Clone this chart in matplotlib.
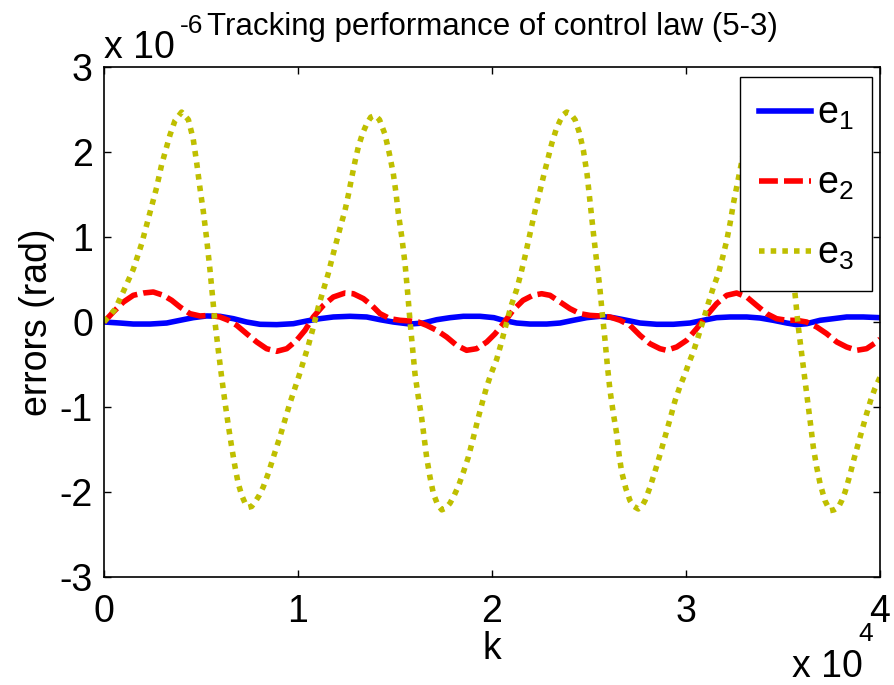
import numpy as np
import matplotlib
matplotlib.use("Agg")
import matplotlib.pyplot as plt
from matplotlib.ticker import FuncFormatter

plt.rcParams["font.family"] = ["Liberation Sans", "DejaVu Sans"]
plt.rcParams["mathtext.default"] = "regular"

# values: k in units of 1e4, errors in units of 1e-6 rad
k_e1 = [0.000, 0.082, 0.151, 0.237, 0.323, 0.392, 0.460, 0.529, 0.598, 0.667,
        0.735, 0.804, 0.890, 0.976, 1.045, 1.113, 1.182, 1.268, 1.354, 1.423,
        1.491, 1.577, 1.646, 1.715, 1.784, 1.852, 1.938, 2.010, 2.058, 2.127,
        2.196, 2.282, 2.351, 2.419, 2.488, 2.557, 2.625, 2.694, 2.763, 2.849,
        2.935, 3.021, 3.089, 3.158, 3.227, 3.313, 3.381, 3.450, 3.519, 3.570,
        3.622, 3.691, 3.759, 3.828, 3.914, 4.000]
e1 = [0.000, -0.012, -0.024, -0.024, -0.012, 0.020, 0.051, 0.071, 0.067, 0.039,
      0.000, -0.027, -0.031, -0.020, 0.012, 0.039, 0.059, 0.067, 0.059, 0.027,
      0.000, -0.024, -0.012, 0.027, 0.051, 0.067, 0.067, 0.051, 0.020, -0.012,
      -0.024, -0.024, -0.012, 0.020, 0.051, 0.067, 0.051, 0.020, -0.012, -0.027,
      -0.027, -0.012, 0.020, 0.051, 0.059, 0.059, 0.047, 0.020, -0.012, -0.031,
      -0.020, 0.020, 0.039, 0.059, 0.059, 0.051]

k_e2 = [0.000, 0.048, 0.100, 0.151, 0.203, 0.254, 0.306, 0.349, 0.392, 0.443,
        0.495, 0.546, 0.598, 0.641, 0.684, 0.735, 0.787, 0.838, 0.890, 0.942,
        0.993, 1.036, 1.079, 1.131, 1.182, 1.242, 1.285, 1.337, 1.380, 1.423,
        1.474, 1.526, 1.577, 1.620, 1.663, 1.715, 1.766, 1.818, 1.869, 1.921,
        1.973, 2.015, 2.058, 2.108, 2.160, 2.211, 2.256, 2.299, 2.351, 2.402,
        2.454, 2.505, 2.557, 2.608, 2.660, 2.711, 2.763, 2.814, 2.866, 2.900,
        2.952, 3.003, 3.055, 3.107, 3.158, 3.210, 3.261, 3.313, 3.364, 3.416,
        3.467, 3.519, 3.570, 3.622, 3.674, 3.725, 3.777, 3.828, 3.880, 3.931,
        3.983, 4.000]
e2 = [0.000, 0.118, 0.235, 0.314, 0.341, 0.353, 0.314, 0.255, 0.176, 0.098,
      0.071, 0.078, 0.059, 0.020, -0.039, -0.137, -0.235, -0.314, -0.345, -0.314,
      -0.216, -0.098, 0.059, 0.196, 0.294, 0.341, 0.333, 0.275, 0.196, 0.098,
      0.039, 0.020, 0.012, 0.000, -0.039, -0.098, -0.176, -0.275, -0.333, -0.314,
      -0.235, -0.140, -0.020, 0.137, 0.255, 0.314, 0.333, 0.314, 0.235, 0.157,
      0.098, 0.078, 0.071, 0.059, 0.020, -0.039, -0.157, -0.255, -0.314, -0.333,
      -0.294, -0.216, -0.078, 0.078, 0.216, 0.314, 0.341, 0.294, 0.196, 0.098,
      0.039, 0.020, 0.020, 0.000, -0.059, -0.137, -0.235, -0.294, -0.333, -0.314,
      -0.235, -0.200]

k_e3 = [0.000, 0.057, 0.100, 0.151, 0.194, 0.237, 0.271, 0.297, 0.340, 0.366,
        0.400, 0.435, 0.460, 0.478, 0.495, 0.512, 0.529, 0.546, 0.560, 0.572,
        0.589, 0.607, 0.624, 0.641, 0.658, 0.675, 0.692, 0.710, 0.727, 0.744,
        0.761, 0.778, 0.800, 0.821, 0.847, 0.873, 0.907, 0.933, 0.959, 0.985,
        1.007, 1.027, 1.053, 1.079, 1.105, 1.130, 1.156, 1.178, 1.200, 1.221,
        1.242, 1.260, 1.277, 1.294, 1.311, 1.333, 1.354, 1.375, 1.397, 1.420,
        1.448, 1.470, 1.491, 1.505, 1.517, 1.535, 1.552, 1.565, 1.577, 1.590,
        1.603, 1.620, 1.637, 1.650, 1.663, 1.680, 1.698, 1.720, 1.741, 1.762,
        1.784, 1.805, 1.827, 1.852, 1.878, 1.905, 1.930, 1.952, 1.973, 1.995,
        2.024, 2.045, 2.067, 2.097, 2.127, 2.150, 2.170, 2.196, 2.222, 2.245,
        2.265, 2.288, 2.308, 2.330, 2.351, 2.368, 2.385, 2.405, 2.428, 2.450,
        2.471, 2.490, 2.505, 2.522, 2.540, 2.555, 2.565, 2.582, 2.595, 2.608,
        2.625, 2.643, 2.655, 2.668, 2.690, 2.711, 2.732, 2.754, 2.772, 2.789,
        2.815, 2.840, 2.866, 2.892, 2.918, 2.943, 2.970, 2.995, 3.015, 3.038,
        3.062, 3.089, 3.115, 3.140, 3.167, 3.190, 3.210, 3.228, 3.244, 3.262,
        3.278, 3.304, 3.330, 3.355, 3.385, 3.410, 3.435, 3.460, 3.485, 3.505,
        3.525, 3.545, 3.562, 3.579, 3.592, 3.605, 3.618, 3.631, 3.644, 3.656,
        3.673, 3.691, 3.716, 3.742, 3.763, 3.785, 3.803, 3.820, 3.845, 3.866,
        3.888, 3.910, 3.931, 3.952, 3.974, 4.000]
e3 = [0.000, 0.150, 0.360, 0.620, 0.920, 1.290, 1.580, 1.850, 2.200, 2.370,
      2.470, 2.380, 2.150, 1.870, 1.570, 1.300, 0.980, 0.620, 0.280, 0.000,
      -0.330, -0.660, -0.950, -1.220, -1.470, -1.700, -1.900, -2.040, -2.130, -2.180,
      -2.170, -2.120, -2.040, -1.940, -1.780, -1.590, -1.350, -1.150, -0.950, -0.770,
      -0.620, -0.470, -0.280, -0.060, 0.180, 0.370, 0.570, 0.770, 0.960, 1.140,
      1.310, 1.500, 1.700, 1.890, 2.060, 2.220, 2.330, 2.410, 2.430, 2.380,
      2.210, 1.990, 1.750, 1.520, 1.280, 1.000, 0.680, 0.350, 0.020, -0.300,
      -0.610, -0.880, -1.120, -1.360, -1.590, -1.820, -2.020, -2.150, -2.210, -2.190,
      -2.130, -2.040, -1.930, -1.770, -1.590, -1.350, -1.120, -0.930, -0.760, -0.610,
      -0.440, -0.270, -0.080, 0.180, 0.380, 0.580, 0.770, 1.040, 1.310, 1.520,
      1.710, 1.920, 2.100, 2.260, 2.370, 2.440, 2.470, 2.450, 2.380, 2.230,
      2.020, 1.740, 1.420, 1.060, 0.700, 0.420, 0.180, -0.200, -0.520, -0.800,
      -1.070, -1.320, -1.560, -1.760, -1.960, -2.100, -2.170, -2.200, -2.170, -2.100,
      -1.940, -1.760, -1.560, -1.350, -1.140, -0.930, -0.750, -0.610, -0.480, -0.350,
      -0.180, 0.020, 0.220, 0.400, 0.570, 0.770, 0.960, 1.170, 1.390, 1.600,
      1.780, 2.080, 2.280, 2.390, 2.450, 2.420, 2.300, 2.100, 1.800, 1.450,
      1.080, 0.700, 0.330, -0.060, -0.300, -0.530, -0.770, -1.000, -1.240, -1.470,
      -1.700, -1.900, -2.100, -2.220, -2.210, -2.180, -2.100, -2.000, -1.800, -1.610,
      -1.430, -1.250, -1.080, -0.920, -0.780, -0.650]

K_SCALE = 1e4
E_SCALE = 1e-6

fig = plt.figure(figsize=(8.94, 6.85), dpi=100)
ax = fig.add_axes([104 / 894, 1 - 577 / 685, 776 / 894, 510 / 685])

ax.plot(np.array(k_e1) * K_SCALE, np.array(e1) * E_SCALE, color="#0000FF",
        lw=4, label="e$_1$")
ax.plot(np.array(k_e2) * K_SCALE, np.array(e2) * E_SCALE, color="#FF0000",
        lw=4, dashes=(3.4, 1.1), label="e$_2$")
ax.plot(np.array(k_e3) * K_SCALE, np.array(e3) * E_SCALE, color="#BFBF00",
        lw=4, dashes=(1.0, 1.1), label="e$_3$")

ax.set_xlim(0, 4e4)
ax.set_ylim(-3e-6, 3e-6)
ax.set_xticks(np.arange(0, 4.01, 1) * K_SCALE)
ax.set_yticks(np.arange(-3, 3.01, 1) * E_SCALE)
ax.xaxis.set_major_formatter(FuncFormatter(lambda v, _: f"{round(v / K_SCALE):d}"))
ax.yaxis.set_major_formatter(FuncFormatter(lambda v, _: f"{round(v / E_SCALE):d}"))
ax.tick_params(direction="in", top=True, right=True, length=5, width=1,
               labelsize=27)
ax.tick_params(axis="x", pad=12)
ax.tick_params(axis="y", pad=8)
for s in ax.spines.values():
    s.set_linewidth(1.2)

ax.set_title("Tracking performance of control law (5-3)", fontsize=22.5, pad=23)
ax.set_xlabel("k", fontsize=27)
ax.xaxis.set_label_coords(0.5, -0.106)
ax.set_ylabel("errors (rad)", fontsize=27)
ax.yaxis.set_label_coords(-0.063, 0.5)

# MATLAB style exponent labels
fig.text(104 / 894, 1 - 58 / 685, "x 10", fontsize=27, va="baseline")
fig.text(180 / 894, 1 - 33 / 685, "-6", fontsize=19, va="baseline")
fig.text(792 / 894, 1 - 677 / 685, "x 10", fontsize=27, va="baseline")
fig.text(858 / 894, 1 - 641 / 685, "4", fontsize=19, va="baseline")

leg = ax.legend(loc="upper right", bbox_to_anchor=(0.990, 0.980), borderaxespad=0,
                fontsize=27, handlelength=1.4, handletextpad=0.15,
                labelspacing=0.9, borderpad=0.5, fancybox=False,
                edgecolor="k", framealpha=1)
leg.get_frame().set_linewidth(1.0)

fig.savefig("out.png", dpi=100)
